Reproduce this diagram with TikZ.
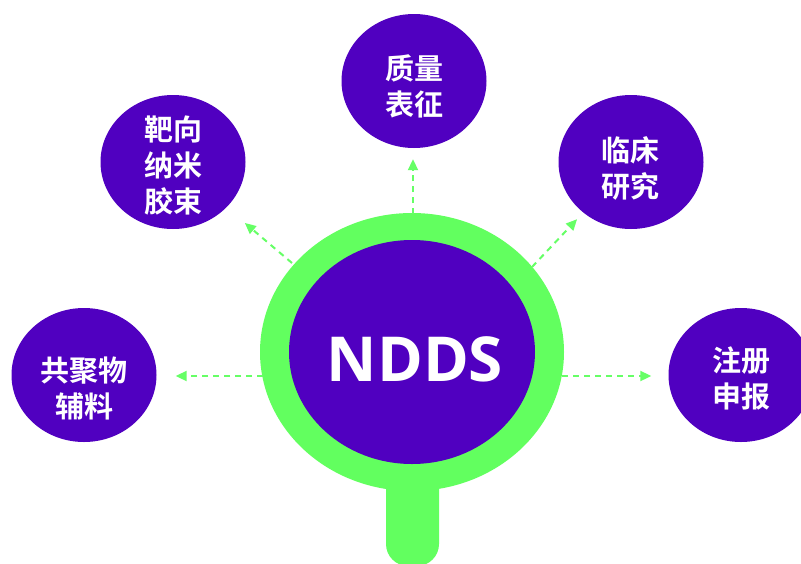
\documentclass[tikz,border=0pt]{standalone}
\usepackage{fontspec}
\usetikzlibrary{shapes.geometric,arrows.meta}
\newfontfamily\cjk{Noto Sans CJK SC}[BoldFont={Noto Sans CJK SC Bold}]
\newfontfamily\latinfont{Open Sans}[BoldFont={Open Sans Bold}]
\definecolor{nddspurple}{RGB}{80,0,192}
\definecolor{nddsgreen}{RGB}{98,255,95}
\definecolor{arrowgreen}{RGB}{102,255,102}
\tikzset{
  sat/.style={ellipse, fill=nddspurple, minimum width=145pt, minimum height=134pt, inner sep=0pt},
  sattext/.style={text=white, font=\cjk\bfseries\fontsize{29pt}{36pt}\selectfont, align=center},
  link/.style={draw=arrowgreen, line width=2pt, dash pattern=on 6pt off 5pt, -{Triangle[length=11pt,width=10pt]}}
}
\begin{document}
\begin{tikzpicture}[x=1pt,y=-1pt]
\clip (0,0) rectangle (801,563);
\useasboundingbox (0,0) rectangle (801,563);
\fill[white] (0,0) rectangle (801,563);
% handle
\fill[nddsgreen, rounded corners=22pt] (386,470) -- (386,566) -- (439,566) -- (439,470);
% ring and core
\node[ellipse, fill=nddsgreen, minimum width=304pt, minimum height=278pt, inner sep=0pt] (ring) at (412,352) {};
\node[ellipse, fill=nddspurple, minimum width=246pt, minimum height=224pt, inner sep=0pt] (core) at (412,352) {};
\node[text=white, font=\latinfont\bfseries\fontsize{62pt}{70pt}\selectfont, inner sep=0pt] (tcore) at (415,359) {NDDS};
% satellites
\node[sat] (quality) at (414,81) {};
\node[sat] (micelle) at (173,162) {};
\node[sat] (clinic) at (631,162) {};
\node[sat] (copoly) at (84,375) {};
\node[sat] (register) at (741,375) {};
\node[sattext] (tquality) at (414,86) {质量\\表征};
\node[sattext] (tmicelle) at (173,166) {靶向\\纳米\\胶束};
\node[sattext] (tclinic) at (630,168) {临床\\研究};
\node[sattext] (tcopoly) at (84,388) {共聚物\\辅料};
\node[sattext] (tregister) at (741,378) {注册\\申报};
% connector start points on the ring
\coordinate (squality) at (413,214);
\coordinate (smicelle) at (292,263);
\coordinate (sclinic) at (532,267);
\coordinate (scopoly) at (263,376);
\coordinate (sregister) at (562,376);
% connectors
\draw[link, shorten >=11pt] (squality) -- (squality |- quality.south);
\draw[link, shorten >=24pt] (smicelle) -- (micelle);
\draw[link, shorten >=9pt] (sclinic) -- (clinic);
\draw[link, shorten >=19pt] (scopoly) -- (scopoly -| copoly.east);
\draw[link, shorten >=17pt] (sregister) -- (sregister -| register.west);
\end{tikzpicture}
\end{document}
